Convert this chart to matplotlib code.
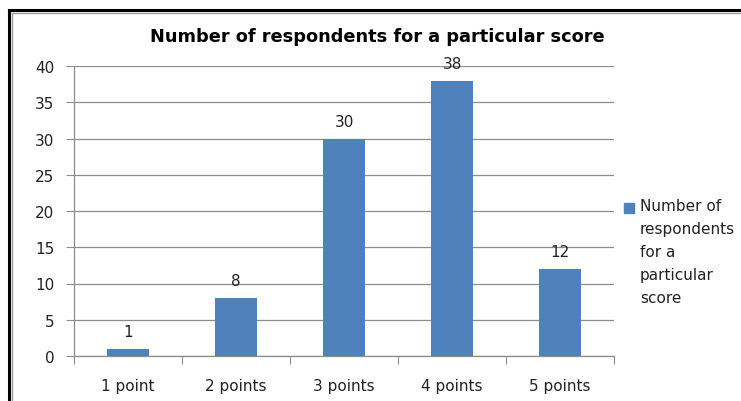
import matplotlib
matplotlib.use("Agg")
import matplotlib.pyplot as plt
from matplotlib.lines import Line2D
from matplotlib.patches import Rectangle

# chart data
categories = ["1 point", "2 points", "3 points", "4 points", "5 points"]
respondents = [1, 8, 30, 38, 12]
series_name = "Number of respondents for a particular score"
legend_text = "Number of\nrespondents\nfor a\nparticular\nscore"
y_ticks = [0, 5, 10, 15, 20, 25, 30, 35, 40]

bar_color = "#4F81BD"
grid_color = "#8C8C8C"
text_color = "#222222"

W, H = 741, 402
fig = plt.figure(figsize=(W / 100, H / 100), dpi=100)
fig.patch.set_facecolor("white")

ax = fig.add_axes([74 / W, 1 - 357 / H, (614 - 74) / W, (357 - 67) / H])

x = range(len(categories))
bars = ax.bar(x, respondents, width=0.39, color=bar_color, zorder=3)

ax.set_xlim(-0.5, len(categories) - 0.5)
ax.set_ylim(0, 40)
ax.set_yticks(y_ticks)
ax.set_yticklabels([str(v) for v in y_ticks], fontsize=11, color=text_color)
ax.tick_params(axis="y", length=6, color=grid_color, pad=8)

# x ticks sit between categories, labels in the middle
ax.set_xticks([i - 0.5 for i in range(len(categories) + 1)])
ax.set_xticklabels([])
ax.set_xticks(list(x), minor=True)
ax.set_xticklabels(categories, minor=True, fontsize=11, color=text_color)
ax.tick_params(axis="x", which="major", length=6, color=grid_color)
ax.tick_params(axis="x", which="minor", length=0, pad=16)

ax.yaxis.grid(True, color=grid_color, linewidth=0.9, zorder=0)
ax.set_axisbelow(True)
for side in ["top", "right"]:
    ax.spines[side].set_visible(False)
for side in ["left", "bottom"]:
    ax.spines[side].set_color(grid_color)
    ax.spines[side].set_linewidth(0.9)

for b, v in zip(bars, respondents):
    ax.annotate(str(v), (b.get_x() + b.get_width() / 2, v), xytext=(0, 7),
                textcoords="offset points", ha="center", va="bottom",
                fontsize=11, color=text_color)

fig.text(377 / W, 1 - 37 / H, series_name, ha="center", va="center",
         fontsize=12.8, fontweight="bold", color="black")

# legend, drawn by hand so the text can run off the edge like the original
fig.add_artist(Rectangle((624 / W, 1 - 214 / H), 10 / W, 10 / H,
                         transform=fig.transFigure, color=bar_color))
fig.text(640 / W, 1 - 199 / H, legend_text, ha="left", va="top",
         fontsize=11, color=text_color, linespacing=1.66)

# outer chart frame (black with grey inner edge)
fig.add_artist(Line2D([9 / W, 9 / W], [0, 1 - 11 / H], color="black", lw=2.2,
                      transform=fig.transFigure))
fig.add_artist(Line2D([9 / W, 1], [1 - 11 / H, 1 - 11 / H], color="black", lw=2.2,
                      transform=fig.transFigure))
fig.add_artist(Line2D([11.5 / W, 11.5 / W], [0, 1 - 13.5 / H], color="#999999", lw=1,
                      transform=fig.transFigure))
fig.add_artist(Line2D([11.5 / W, 1], [1 - 13.5 / H, 1 - 13.5 / H], color="#999999", lw=1,
                      transform=fig.transFigure))

fig.savefig("out.png", dpi=100)
